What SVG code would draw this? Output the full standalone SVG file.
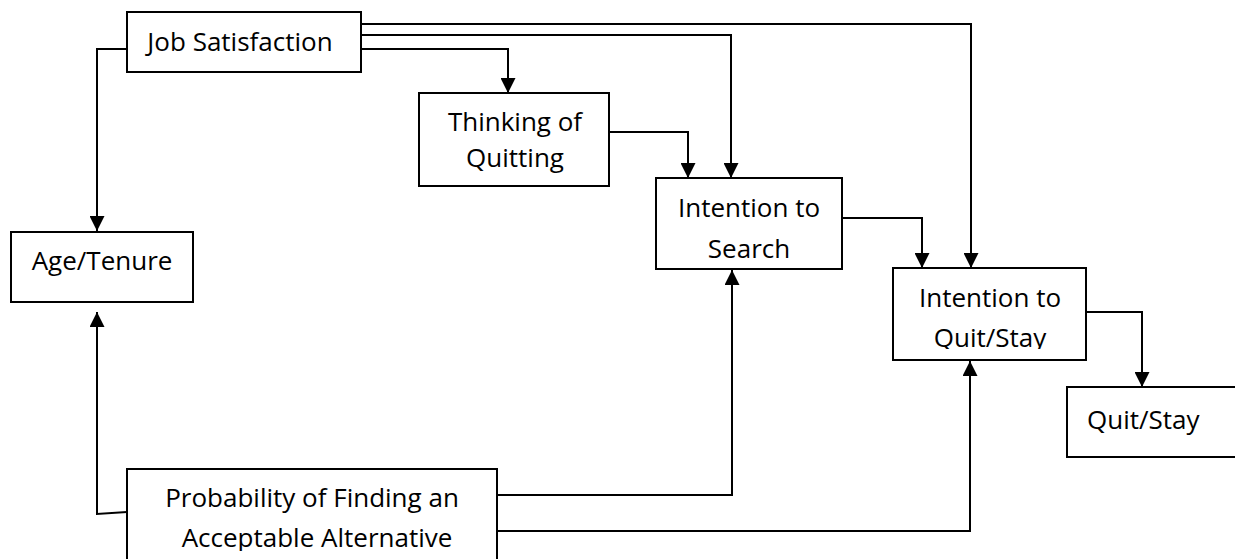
<svg xmlns="http://www.w3.org/2000/svg" width="1235" height="559" viewBox="0 0 1235 559">
<style>
.box{fill:#fff;stroke:#000;stroke-width:2}
.lbl{font-family:"Open Sans","Liberation Sans",sans-serif;font-size:26px;fill:#000}
.c{text-anchor:middle}
.con{fill:none;stroke:#000;stroke-width:2;marker-end:url(#arr)}
</style>
<defs>
<marker id="arr" viewBox="0 0 15 15" refX="15" refY="7.5" markerWidth="15" markerHeight="15" markerUnits="userSpaceOnUse" orient="auto">
<path d="M0,0 L15,7.5 L0,15 z" fill="#000"/>
</marker>
<clipPath id="clipIQ"><rect x="893" y="268" width="193" height="81"/></clipPath>
<clipPath id="clipPr"><rect x="127" y="469" width="370" height="82"/></clipPath>
</defs>
<rect width="1235" height="559" fill="#fff"/>
<g id="connectors">
<path class="con" d="M127,49 H97 V231"/>
<path class="con" d="M361,49 H508 V93"/>
<path class="con" d="M361,35 H731 V178"/>
<path class="con" d="M361,24 H971 V268"/>
<path class="con" d="M609,132 H688 V178"/>
<path class="con" d="M842,218 H922 V268"/>
<path class="con" d="M1086,312 H1142 V387"/>
<path class="con" d="M127,512 L97,514 V312"/>
<path class="con" d="M497,495 H732 V270"/>
<path class="con" d="M497,531 H970 V361"/>
</g>
<g id="job-satisfaction">
<rect class="box" x="127" y="12" width="234" height="60"/>
<text class="lbl c" x="240" y="51">Job Satisfaction</text>
</g>
<g id="thinking-of-quitting">
<rect class="box" x="419" y="93" width="190" height="93"/>
<text class="lbl c" x="515" y="131">Thinking of</text>
<text class="lbl c" x="515" y="167">Quitting</text>
</g>
<g id="intention-to-search">
<rect class="box" x="656" y="178" width="186" height="91"/>
<text class="lbl c" x="749" y="217">Intention to</text>
<text class="lbl c" x="749" y="258">Search</text>
</g>
<g id="intention-to-quit-stay">
<rect class="box" x="893" y="268" width="193" height="92"/>
<g clip-path="url(#clipIQ)">
<text class="lbl c" x="990" y="307">Intention to</text>
<text class="lbl c" x="990" y="347">Quit/Stay</text>
</g>
</g>
<g id="quit-stay">
<rect class="box" x="1067" y="387" width="180" height="70"/>
<text class="lbl" x="1087" y="429">Quit/Stay</text>
</g>
<g id="age-tenure">
<rect class="box" x="11" y="232" width="182" height="70"/>
<text class="lbl c" x="102" y="270">Age/Tenure</text>
</g>
<g id="probability">
<rect class="box" x="127" y="469" width="370" height="100"/>
<g clip-path="url(#clipPr)">
<text class="lbl c" x="312" y="507">Probability of Finding an</text>
<text class="lbl c" x="317" y="547">Acceptable Alternative</text>
</g>
</g>
</svg>
